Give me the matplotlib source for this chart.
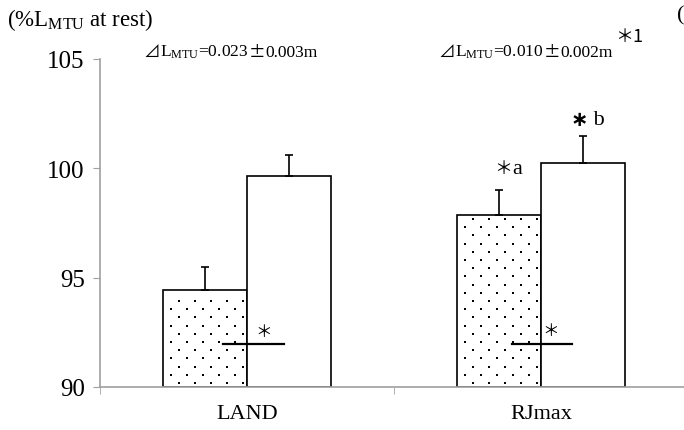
import numpy as np
import matplotlib
matplotlib.use("Agg")
import matplotlib.pyplot as plt

plt.rcParams["font.family"] = ["Liberation Serif", "DejaVu Serif"]
plt.rcParams["mathtext.fontset"] = "custom"
plt.rcParams["mathtext.rm"] = "Liberation Serif"

# -----------------------------------
# Data
# -----------------------------------
categories = ["LAND", "RJmax"]
dotted_vals = [94.44, 97.86]
dotted_err = [1.05, 1.17]
white_vals = [99.66, 100.23]
white_err = [0.96, 1.23]

y_ticks = [90, 95, 100, 105]
sig_line_y = 91.95
delta_values = [("0.023", "0.003"), ("0.010", "0.002")]

JP = ["Noto Sans CJK JP", "DejaVu Sans"]
W, H = 684, 431
fig = plt.figure(figsize=(W / 100, H / 100), dpi=100)
ax = fig.add_axes([100 / W, 43 / H, 588 / W, 328 / H])

x = np.arange(len(categories))
bw = 1 / 3.5

ax.set_xlim(-0.5, 1.5)
ax.set_ylim(90, 105)

dotted = ax.bar(x - bw / 2, np.array(dotted_vals) - 90, bw, bottom=90,
                color="white", edgecolor="black", linewidth=1.2, zorder=2)
ax.bar(x + bw / 2, np.array(white_vals) - 90, bw, bottom=90,
       color="white", edgecolor="black", linewidth=1.2, zorder=2)

# dot texture inside the dotted bars: staggered rows, 16 px across, 8 px down
to_data = ax.transData.inverted()
for patch in dotted:
    bb = patch.get_window_extent()
    pts = []
    for j, yy in enumerate(np.arange(bb.y0 + 4, bb.y1 - 3, 8.2)):
        start = bb.x0 + (8 if j % 2 else 16)
        for xx in np.arange(start, bb.x1 - 3, 16):
            pts.append((xx, yy))
    pts = to_data.transform(np.array(pts))
    ax.scatter(pts[:, 0], pts[:, 1], s=3.2, marker="s", color="black",
               linewidths=0, zorder=3)

# one-sided error bars
ax.errorbar(x - bw / 2, dotted_vals, yerr=[np.zeros(2), dotted_err],
            fmt="none", ecolor="black", elinewidth=1.2, capsize=3, capthick=1.2)
ax.errorbar(x + bw / 2, white_vals, yerr=[np.zeros(2), white_err],
            fmt="none", ecolor="black", elinewidth=1.2, capsize=3, capthick=1.2)

# significance markers between the two bars
ax.plot([-24 / 294, 37 / 294], [sig_line_y, sig_line_y], color="black", lw=1.6,
        zorder=4)
ax.plot([1 - 29 / 294, 1 + 31 / 294], [sig_line_y, sig_line_y], color="black",
        lw=1.6, zorder=4)
ax.text(17 / 294, sig_line_y + 0.6, "＊", ha="center", va="center", fontsize=12,
        family=JP)
ax.text(1 + 10 / 294, sig_line_y + 0.65, "＊", ha="center", va="center",
        fontsize=12, family=JP)
t = ax.text(1 - 38 / 294, 100.0, "＊", ha="center", va="center", fontsize=13,
            family=JP)
ax.annotate("a", xy=(1, 0.5), xycoords=t, va="center", fontsize=16)
t = ax.text(1 + 38 / 294, 102.25, "∗", ha="center", va="center", fontsize=15,
            fontweight="bold", family=["DejaVu Sans"])
ax.annotate(" b", xy=(1, 0.5), xycoords=t, va="center", fontsize=16)

ax.set_yticks(y_ticks)
ax.set_xticks(x)
ax.set_xticklabels(categories, fontsize=16)
ax.set_xticks([-0.5, 0.5, 1.5], minor=True)
ax.tick_params(axis="x", which="major", length=0, pad=12)
ax.tick_params(axis="x", which="minor", length=5, color="#a0a0a0", direction="out")
ax.tick_params(axis="y", labelsize=18, length=5, color="#a0a0a0", pad=6)

for side in ["top", "right"]:
    ax.spines[side].set_visible(False)
for side in ["left", "bottom"]:
    ax.spines[side].set_color("#a0a0a0")
    ax.spines[side].set_linewidth(1.2)


# header texts in pixel coordinates
def px(xp, yp):
    return xp / W, 1 - yp / H


fig.text(*px(7, 20), r"(%$\mathregular{L_{MTU}}$ at rest)", fontsize=16.5,
         va="center")

# ⊿L_MTU=value±err m, built in pieces so ⊿ and ± come from the CJK font
fig.canvas.draw()
for xp, (val, err) in zip([143, 438], delta_values):
    fig.text(*px(xp, 57), "⊿", fontsize=12, va="baseline", family=JP)
    t = fig.text(*px(xp + 17, 57), r"$\mathregular{L_{MTU}}$=" + val,
                 fontsize=12.5, va="baseline")
    bb = t.get_window_extent()
    t2 = fig.text(bb.x1 / W, 1 - 57 / H, "±", fontsize=12, va="baseline",
                  family=JP)
    bb2 = t2.get_window_extent()
    fig.text(bb2.x1 / W, 1 - 57 / H, err + "m", fontsize=12.5, va="baseline")

fig.text(*px(615, 37), "＊1", fontsize=13, va="center", family=JP)
fig.text(*px(677, 16), "(", fontsize=16, va="center")

fig.savefig("out.png", dpi=100)
